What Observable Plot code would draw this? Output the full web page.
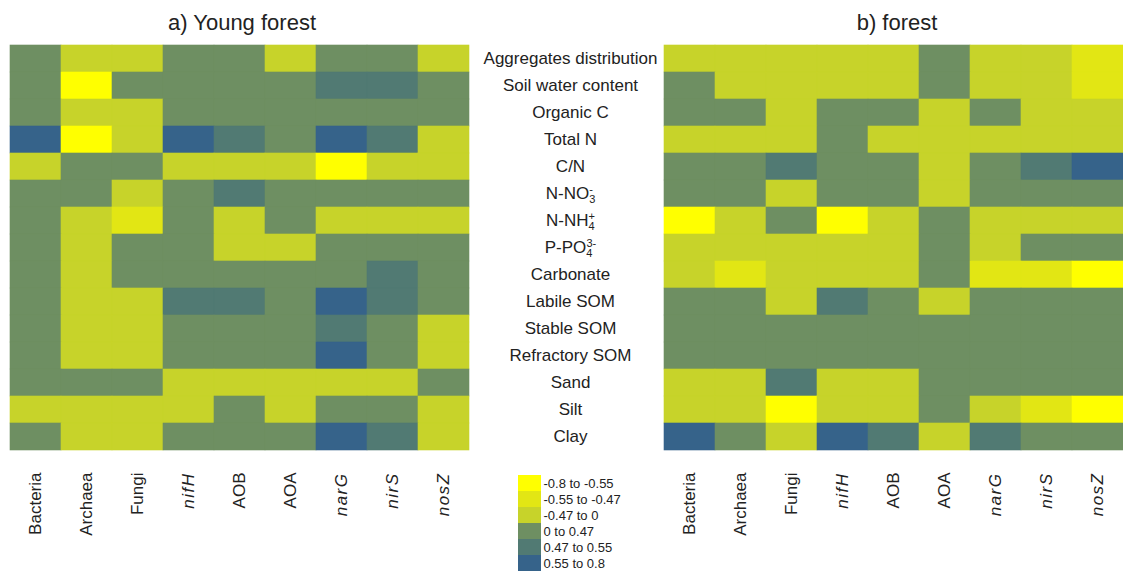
<!DOCTYPE html>
<html>
<head>
<meta charset="utf-8">
<script src="https://cdn.jsdelivr.net/npm/d3@7"></script>
<script src="https://cdn.jsdelivr.net/npm/@observablehq/plot@0.6"></script>
<style>
  body { margin: 0; background: #fff; }
  #chart { position: relative; width: 1123px; height: 574px; overflow: hidden; font-family: "Liberation Sans", Arial, sans-serif; }
  .panel { position: absolute; top: 0; }
  .title { position: absolute; top: 10px; font-size: 22px; color: #222; text-align: center; white-space: nowrap; }
</style>
</head>
<body>
<div id="chart"></div>
<script>
// Microbial groups / functional genes (columns)
const microbes = ["Bacteria", "Archaea", "Fungi", "nifH", "AOB", "AOA", "narG", "nirS", "nosZ"];
const italicGenes = ["nifH", "narG", "nirS", "nosZ"];

// Soil properties (rows)
const properties = ["Aggregates distribution", "Soil water content", "Organic C", "Total N", "C/N",
  "N-NO3-", "N-NH4+", "P-PO43-", "Carbonate", "Labile SOM", "Stable SOM", "Refractory SOM",
  "Sand", "Silt", "Clay"];

// Correlation classes (1 = most negative ... 6 = most positive)
const classes = [1, 2, 3, 4, 5, 6];
const classLabels = ["-0.8 to -0.55", "-0.55 to -0.47", "-0.47 to 0", "0 to 0.47", "0.47 to 0.55", "0.55 to 0.8"];
const classColors = ["#ffff00", "#e2e614", "#c7d32a", "#6e8f62", "#517a73", "#36638a"];

// Correlation class for each soil property (row) x microbe (column)
const youngForest = [
  [4, 3, 3, 4, 4, 3, 4, 4, 3],
  [4, 1, 4, 4, 4, 4, 5, 5, 4],
  [4, 3, 3, 4, 4, 4, 4, 4, 4],
  [6, 1, 3, 6, 5, 4, 6, 5, 3],
  [3, 4, 4, 3, 3, 3, 1, 3, 3],
  [4, 4, 3, 4, 5, 4, 4, 4, 4],
  [4, 3, 2, 4, 3, 4, 3, 3, 3],
  [4, 3, 4, 4, 3, 3, 4, 4, 4],
  [4, 3, 4, 4, 4, 4, 4, 5, 4],
  [4, 3, 3, 5, 5, 4, 6, 5, 4],
  [4, 3, 3, 4, 4, 4, 5, 4, 3],
  [4, 3, 3, 4, 4, 4, 6, 4, 3],
  [4, 4, 4, 3, 3, 3, 3, 3, 4],
  [3, 3, 3, 3, 4, 3, 4, 4, 3],
  [4, 3, 3, 4, 4, 4, 6, 5, 3]
];

const forest = [
  [3, 3, 3, 3, 3, 4, 3, 3, 2],
  [4, 3, 3, 3, 3, 4, 3, 3, 2],
  [4, 4, 3, 4, 4, 3, 4, 3, 3],
  [3, 3, 3, 4, 3, 3, 3, 3, 3],
  [4, 4, 5, 4, 4, 3, 4, 5, 6],
  [4, 4, 3, 4, 4, 3, 4, 4, 4],
  [1, 3, 4, 1, 3, 4, 3, 3, 3],
  [3, 3, 3, 3, 3, 4, 3, 4, 4],
  [3, 2, 3, 3, 3, 4, 2, 2, 1],
  [4, 4, 3, 5, 4, 3, 4, 4, 4],
  [4, 4, 4, 4, 4, 4, 4, 4, 4],
  [4, 4, 4, 4, 4, 4, 4, 4, 4],
  [3, 3, 5, 3, 3, 4, 4, 4, 4],
  [3, 3, 1, 3, 3, 4, 3, 2, 1],
  [6, 4, 3, 6, 5, 3, 5, 4, 4]
];

const toCells = (matrix) => matrix.flatMap((row, i) =>
  row.map((c, j) => ({property: properties[i], microbe: microbes[j], cls: c})));

const chart = document.getElementById("chart");
const FONT = '"Liberation Sans", Arial, sans-serif';

// Rich text for the nutrient labels (stacked sub/superscripts)
const richLabels = {
  "N-NO3-": ["N-NO", "3", "-"],
  "N-NH4+": ["N-NH", "4", "+"],
  "P-PO43-": ["P-PO", "4", "3-"]
};

function finishLabels(svg) {
  d3.select(svg).selectAll("text").each(function () {
    const t = d3.select(this);
    const s = this.textContent;
    if (italicGenes.includes(s)) {
      t.style("font-style", "italic").style("letter-spacing", "1.5px");
    } else if (richLabels[s]) {
      const [base, sub, sup] = richLabels[s];
      t.text(null);
      t.append("tspan").text(base);
      t.append("tspan").attr("dy", "0.35em").attr("font-size", "11px").text(sub);
      t.append("tspan").attr("dx", -6).attr("dy", "-0.95em").attr("font-size", "11px").text(sup);
    }
  });
}

function heatmap(matrix, withRowLabels) {
  const width = withRowLabels ? 663 : 460;
  const svg = Plot.plot({
    width,
    height: 574,
    marginLeft: withRowLabels ? 8 : 0,
    marginRight: withRowLabels ? 192 : 0,
    marginTop: 41,
    marginBottom: 120,
    style: {fontSize: "17px", fontFamily: FONT, color: "#222", background: "transparent", overflow: "visible"},
    x: {domain: microbes, padding: 0, axis: null},
    y: {domain: properties, padding: 0, axis: null},
    color: {type: "ordinal", domain: classes, range: classColors},
    marks: [
      Plot.cell(toCells(matrix), {x: "microbe", y: "property", fill: "cls", stroke: "cls", strokeWidth: 0.6, inset: 0}),
      Plot.axisX({anchor: "bottom", tickSize: 0, tickPadding: 18, tickRotate: -90, label: null, fill: "#222"}),
      ...(withRowLabels ? [Plot.axisY({anchor: "right", tickSize: 0, tickPadding: 0, textAnchor: "middle", dx: 99, label: null, fill: "#222"})] : [])
    ]
  });
  finishLabels(svg);
  return svg;
}

// Panel a) Young forest, with the shared property labels
const left = heatmap(youngForest, true);
left.classList.add("panel");
left.style.left = "0px";
chart.appendChild(left);

// Panel b) forest
const right = heatmap(forest, false);
right.classList.add("panel");
right.style.left = "663px";
chart.appendChild(right);

// Titles
function addTitle(text, center) {
  const d = document.createElement("div");
  d.className = "title";
  d.textContent = text;
  d.style.left = (center - 150) + "px";
  d.style.width = "300px";
  chart.appendChild(d);
}
addTitle("a) Young forest", 242);
addTitle("b) forest", 897);

// Colour key
const legend = Plot.plot({
  width: 140,
  height: 98,
  marginLeft: 0,
  marginRight: 117,
  marginTop: 0,
  marginBottom: 0,
  style: {fontSize: "13px", fontFamily: FONT, color: "#222", background: "transparent", overflow: "visible"},
  x: {axis: null, padding: 0},
  y: {domain: classLabels, padding: 0, axis: null},
  color: {type: "ordinal", domain: classLabels, range: classColors},
  marks: [
    Plot.cell(classLabels, {x: () => "key", y: (d) => d, fill: (d) => d, inset: 0}),
    Plot.axisY({anchor: "right", tickSize: 0, tickPadding: 2, label: null, fill: "#222"})
  ]
});
legend.classList.add("panel");
legend.style.left = "518px";
legend.style.top = "474px";
chart.appendChild(legend);
</script>
</body>
</html>
